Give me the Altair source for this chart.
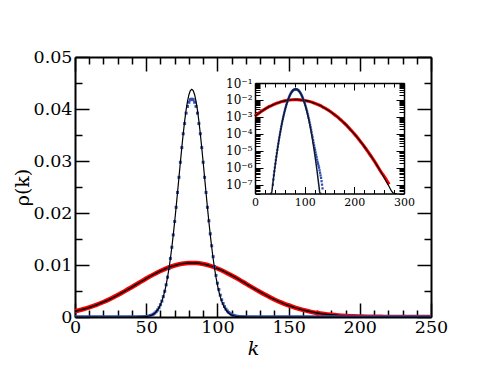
import altair as alt
import pandas as pd

W, H = 356, 260
FONT = "DejaVu Serif"

# ---------------- data ----------------
# broad distribution (red points) and its fit (black line)
red_k = list(range(0, 275, 5))
red_p = [0.00110, 0.00144, 0.00184, 0.00232, 0.00288, 0.00351, 0.00422, 0.00497,
         0.00577, 0.00658, 0.00739, 0.00815, 0.00885, 0.00944, 0.00991, 0.01023,
         0.01039, 0.01037, 0.01018, 0.00983, 0.00933, 0.00872, 0.00800, 0.00723,
         0.00642, 0.00561, 0.00482, 0.00407, 0.00338, 0.00276, 0.00222, 0.00175,
         0.00136, 0.00104, 7.83e-4, 5.79e-4, 4.21e-4, 3.01e-4, 2.11e-4, 1.46e-4,
         9.94e-5, 6.65e-5, 4.37e-5, 2.83e-5, 1.80e-5, 1.12e-5, 6.91e-6, 4.18e-6,
         2.49e-6, 1.46e-6, 8.4e-7, 5.0e-7, 3.1e-7, 1.8e-7, 1.05e-7]
red_fit_k = list(range(0, 290, 5))
red_fit_p = [0.00110, 0.00144, 0.00184, 0.00232, 0.00288, 0.00351, 0.00422, 0.00497,
             0.00577, 0.00658, 0.00739, 0.00815, 0.00885, 0.00944, 0.00991, 0.01023,
             0.01039, 0.01037, 0.01018, 0.00983, 0.00933, 0.00872, 0.00800, 0.00723,
             0.00642, 0.00561, 0.00482, 0.00407, 0.00338, 0.00276, 0.00222, 0.00175,
             0.00136, 0.00104, 7.83e-4, 5.79e-4, 4.21e-4, 3.01e-4, 2.11e-4, 1.46e-4,
             9.94e-5, 6.65e-5, 4.37e-5, 2.83e-5, 1.80e-5, 1.12e-5, 6.91e-6, 4.18e-6,
             2.49e-6, 1.46e-6, 8.38e-7, 4.74e-7, 2.64e-7, 1.44e-7, 7.77e-8, 4.11e-8,
             2.1e-8, 1.1e-8]

# narrow distribution (blue points) and its fit (black line)
blue_k = list(range(36, 137))
blue_p = [1.0e-7, 2.0e-7, 3.6e-7, 6.2e-7, 1.03e-6, 1.71e-6, 2.79e-6, 4.51e-6,
          7.14e-6, 1.13e-5, 1.75e-5, 2.68e-5, 4.07e-5, 6.09e-5, 9.0e-5, 1.32e-4,
          1.91e-4, 2.73e-4, 3.85e-4, 5.37e-4, 7.39e-4, 1.01e-3, 1.35e-3, 1.80e-3,
          2.36e-3, 3.05e-3, 3.91e-3, 4.95e-3, 6.19e-3, 7.65e-3, 9.33e-3, 0.01126,
          0.01341, 0.01579, 0.01836, 0.02109, 0.02395, 0.02686, 0.02976, 0.03258,
          0.03524, 0.0372, 0.0392, 0.0405, 0.0413, 0.0418, 0.0419, 0.0418,
          0.0413, 0.0405, 0.0392, 0.0372, 0.03524, 0.03258, 0.02976, 0.02686,
          0.02395, 0.02109, 0.0185, 0.0160, 0.0137, 0.0116, 0.0097, 0.0080,
          0.0065, 0.0053, 0.0042, 0.0033, 0.0026, 0.0020, 0.00152, 0.00115,
          8.6e-4, 6.4e-4, 4.7e-4, 3.4e-4, 2.45e-4, 1.75e-4, 1.24e-4, 8.6e-5,
          6.2e-5, 4.3e-5, 3.0e-5, 2.1e-5, 1.5e-5, 1.1e-5, 8.0e-6, 5.8e-6,
          4.2e-6, 3.0e-6, 2.2e-6, 1.7e-6, 1.3e-6, 1.0e-6, 7.0e-7, 5.0e-7,
          3.5e-7, 2.5e-7, 1.6e-7, 1.0e-7, 6.0e-8]
blue_fit_k = list(range(30, 135))
blue_fit_p = [3.5e-9, 6.6e-9, 1.22e-8, 2.21e-8, 3.97e-8, 7.05e-8, 1.24e-7, 2.14e-7,
              3.66e-7, 6.22e-7, 1.03e-6, 1.71e-6, 2.79e-6, 4.51e-6, 7.14e-6, 1.13e-5,
              1.75e-5, 2.68e-5, 4.07e-5, 6.09e-5, 9.02e-5, 1.32e-4, 1.91e-4, 2.73e-4,
              3.85e-4, 5.37e-4, 7.39e-4, 1.01e-3, 1.35e-3, 1.80e-3, 2.36e-3, 3.05e-3,
              3.91e-3, 4.95e-3, 6.19e-3, 7.65e-3, 9.33e-3, 0.01126, 0.01341, 0.01579,
              0.01836, 0.02109, 0.02395, 0.02686, 0.02976, 0.03258, 0.03524, 0.03766,
              0.03977, 0.04148, 0.04275, 0.04354, 0.04380, 0.04354, 0.04275, 0.04148,
              0.03977, 0.03766, 0.03524, 0.03258, 0.02976, 0.02686, 0.02395, 0.02109,
              0.01836, 0.01579, 0.01341, 0.01126, 9.33e-3, 7.65e-3, 6.19e-3, 4.95e-3,
              3.91e-3, 3.05e-3, 2.36e-3, 1.80e-3, 1.35e-3, 1.01e-3, 7.39e-4, 5.37e-4,
              3.85e-4, 2.73e-4, 1.91e-4, 1.32e-4, 9.02e-5, 6.09e-5, 4.07e-5, 2.68e-5,
              1.75e-5, 1.13e-5, 7.14e-6, 4.51e-6, 2.79e-6, 1.71e-6, 1.03e-6, 6.22e-7,
              3.66e-7, 2.14e-7, 1.24e-7, 7.05e-8, 3.97e-8, 2.21e-8, 1.22e-8, 6.6e-9,
              3.5e-9]

# tick / label values
main_x_labels = [0, 50, 100, 150, 200, 250]
main_y_labels = [0, 0.01, 0.02, 0.03, 0.04, 0.05]
main_x_ticks = list(range(0, 251, 10))
main_y_ticks = [0, 0.005, 0.01, 0.015, 0.02, 0.025, 0.03, 0.035, 0.04, 0.045, 0.05]
inset_x_labels = [0, 100, 200, 300]
inset_x_ticks = list(range(0, 301, 20))
inset_y_labels = [1e-1, 1e-2, 1e-3, 1e-4, 1e-5, 1e-6, 1e-7]
inset_y_ticks = [m * 10.0 ** e for e in range(-8, 0) for m in range(1, 10)
                 if 3e-8 <= m * 10.0 ** e <= 0.1000001]

# ---------------- tables ----------------
df_red = pd.DataFrame({"k": red_k, "p": red_p})
df_red_fit = pd.DataFrame({"k": red_fit_k, "p": red_fit_p})
blue_map = dict(zip(blue_k, blue_p))
all_k = list(range(0, 251))
df_blue_main = pd.DataFrame({"k": all_k, "p": [blue_map.get(k, 0.0) for k in all_k]})
df_blue_in = pd.DataFrame({"k": blue_k, "p": blue_p})
df_bfit_main = pd.DataFrame({"k": [0] + blue_fit_k + [250],
                             "p": [0.0] + blue_fit_p + [0.0]})
df_bfit_in = pd.DataFrame({"k": blue_fit_k, "p": blue_fit_p})

# ---------------- scales ----------------
sx_main = alt.Scale(domain=[0, 250], range=[0, W], nice=False, zero=False)
sy_main = alt.Scale(domain=[0, 0.05], range=[H, 0], nice=False, zero=False)
sx_in = alt.Scale(domain=[0, 300], range=[180, 329], nice=False, zero=False)
sy_in = alt.Scale(type="log", domain=[3e-8, 0.1], range=[136.5, 26], nice=False, clamp=True)

X_MAJ = "datum.value % 50 === 0"
Y_MAJ = "abs(datum.value*100 - round(datum.value*100)) < 0.001"
IX_MAJ = "datum.value % 100 === 0"
IY_MAJ = "abs(log(datum.value)/LN10 - round(log(datum.value)/LN10)) < 0.001"


def tick_axis(orient, offset, values, test, major, minor, tw=1.5, dw=2):
    return alt.Axis(orient=orient, offset=offset, values=values, labels=False,
                    title=None, grid=False, domain=True, domainColor="black",
                    domainWidth=dw, ticks=True, tickColor="black", tickWidth=tw,
                    tickSize={"condition": {"test": test, "value": major}, "value": minor})


ax_mx_lab = alt.Axis(orient="bottom", values=main_x_labels, format="d",
                     labelFont=FONT, labelFontSize=17.5, labelColor="black",
                     labelPadding=1, labelFlush=False, labelOverlap=False,
                     ticks=False, tickSize=0, domain=False, grid=False,
                     title="k", titleFont=FONT, titleFontSize=19,
                     titleFontStyle="italic", titleFontWeight="normal",
                     titleColor="black", titlePadding=4)
ax_my_lab = alt.Axis(orient="left", values=main_y_labels,
                     labelExpr="datum.value == 0 ? '0' : format(datum.value, '.2f')",
                     labelFont=FONT, labelFontSize=17.5, labelColor="black",
                     labelPadding=3, labelFlush=False, labelOverlap=False,
                     ticks=False, tickSize=0, domain=False, grid=False,
                     title="ρ(k)", titleFont=FONT, titleFontSize=19,
                     titleFontWeight="normal", titleColor="black", titlePadding=1)
ax_ix_lab = alt.Axis(orient="bottom", offset=-123.5, values=inset_x_labels, format="d",
                     labelFont=FONT, labelFontSize=11, labelColor="black",
                     labelPadding=3, labelFlush=False, labelOverlap=False,
                     ticks=False, tickSize=0, domain=False, grid=False, title=None)
ax_iy_lab = alt.Axis(orient="left", offset=-180, values=inset_y_labels,
                     labelExpr="'10' + ['⁰','⁻¹','⁻²','⁻³','⁻⁴','⁻⁵','⁻⁶','⁻⁷','⁻⁸'][round(-log(datum.value)/LN10)]",
                     labelFont=FONT, labelFontSize=12, labelColor="black",
                     labelPadding=3, labelFlush=False, labelOverlap=False,
                     ticks=False, tickSize=0, domain=False, grid=False, title=None)

BLUE = "#3050b0"

# ---------------- main panel ----------------
red_main = alt.Chart(df_red).mark_line(color="#ff0000", strokeWidth=4.5, clip=True,
                                       interpolate="monotone").encode(
    x=alt.X("k:Q", scale=sx_main, axis=ax_mx_lab),
    y=alt.Y("p:Q", scale=sy_main, axis=ax_my_lab))

redfit_main = alt.Chart(df_red_fit).mark_line(color="black", strokeWidth=1.5, clip=True,
                                              interpolate="monotone").encode(
    x=alt.X("k:Q", scale=sx_main, axis=tick_axis("top", -H, main_x_ticks, X_MAJ, 14, 7)),
    y=alt.Y("p:Q", scale=sy_main, axis=tick_axis("right", -W, main_y_ticks, Y_MAJ, 14, 7)))

blue_main = alt.Chart(df_blue_main).mark_square(size=9, color=BLUE, opacity=1,
                                                clip=True).encode(
    x=alt.X("k:Q", scale=sx_main, axis=tick_axis("bottom", -H, main_x_ticks, X_MAJ, 14, 7)),
    y=alt.Y("p:Q", scale=sy_main, axis=tick_axis("left", -W, main_y_ticks, Y_MAJ, 14, 7)))

bluefit_main = alt.Chart(df_bfit_main).mark_line(color="black", strokeWidth=1.2,
                                                 clip=True).encode(
    x=alt.X("k:Q", scale=sx_main, axis=None),
    y=alt.Y("p:Q", scale=sy_main, axis=None))

# ---------------- inset panel ----------------
red_in = alt.Chart(df_red).mark_line(color="#ff0000", strokeWidth=3.2,
                                     interpolate="monotone").encode(
    x=alt.X("k:Q", scale=sx_in, axis=ax_ix_lab),
    y=alt.Y("p:Q", scale=sy_in, axis=ax_iy_lab))

redfit_in = alt.Chart(df_red_fit).mark_line(color="black", strokeWidth=1.2,
                                            interpolate="monotone").encode(
    x=alt.X("k:Q", scale=sx_in, axis=tick_axis("top", -136.5, inset_x_ticks, IX_MAJ, 7, 4, 1, 1.5)),
    y=alt.Y("p:Q", scale=sy_in, axis=tick_axis("right", -176, inset_y_ticks, IY_MAJ, 8, 5, 1, 1.5)))

blue_in = alt.Chart(df_blue_in).mark_square(size=5, color=BLUE, opacity=1).encode(
    x=alt.X("k:Q", scale=sx_in, axis=tick_axis("bottom", -234, inset_x_ticks, IX_MAJ, 7, 4, 1, 1.5)),
    y=alt.Y("p:Q", scale=sy_in, axis=tick_axis("left", -329, inset_y_ticks, IY_MAJ, 8, 5, 1, 1.5)))

bluefit_in = alt.Chart(df_bfit_in).mark_line(color="#101830", strokeWidth=1.5).encode(
    x=alt.X("k:Q", scale=sx_in, axis=None),
    y=alt.Y("p:Q", scale=sy_in, axis=None))

chart = alt.layer(
    red_main, redfit_main, blue_main, bluefit_main,
    red_in, redfit_in, blue_in, bluefit_in
).resolve_scale(x="independent", y="independent").resolve_axis(
    x="independent", y="independent"
).properties(
    width=W, height=H,
    padding={"left": 67, "top": 49, "right": 40, "bottom": 48},
    autosize=alt.AutoSizeParams(type="none"),
).configure_view(stroke=None).configure(background="white")

chart.save("out.html", embed_options={"renderer": "svg", "actions": False})
